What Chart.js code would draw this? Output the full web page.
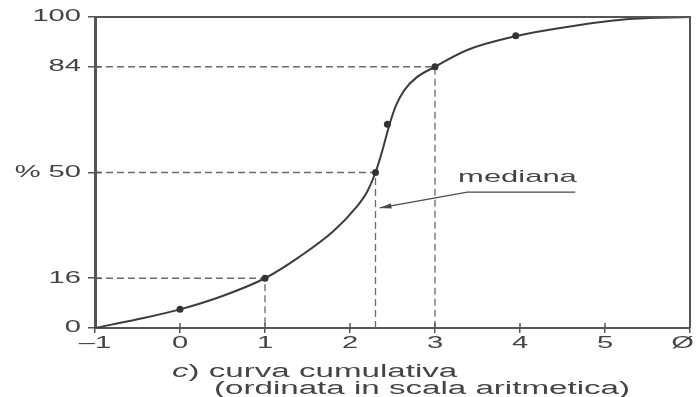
<!DOCTYPE html>
<html>
<head>
<meta charset="utf-8">
<script src="https://cdn.jsdelivr.net/npm/chart.js@4.4.1/dist/chart.umd.min.js"></script>
<style>
  html, body { margin: 0; padding: 0; background: #fff; }
  #wrap { position: relative; width: 696px; height: 397px; }
  canvas { position: absolute; left: 0; top: 0; }
  .cap {
    position: absolute; white-space: nowrap; color: #444;
    font-family: "Liberation Sans", Arial, sans-serif; font-size: 18px;
    transform: scaleX(1.84); transform-origin: left center; line-height: 18px;
  }
</style>
</head>
<body>
<div id="wrap">
  <canvas id="chart" width="696" height="397"></canvas>
  <div class="cap" style="left:172px; top:362px;"><i>c</i>)&nbsp;curva cumulativa</div>
  <div class="cap" style="left:214px; top:379px;">(ordinata in scala aritmetica)</div>
</div>
<script>
// measured points (markers) of the cumulative curve
const markX = [0, 1, 2.3, 2.44, 3, 3.95];
const markY = [6, 16, 50, 65.5, 84, 94];

// the drawn curve
const curveX = [-1, -0.5, 0, 0.5, 1, 1.4, 1.8, 2.08, 2.2, 2.3, 2.38, 2.46, 2.54, 2.64, 2.78, 3, 3.38, 3.96, 4.55, 5.33, 6];
const curveY = [0, 2.8, 6, 10.3, 16, 22.8, 31, 39, 43.7, 50, 57, 65, 71.5, 76.5, 80.5, 84, 89.4, 93.9, 96.8, 99.4, 100];

// dashed guides: 16%, 50% (mediana), 84%
const guideX = [1, 2.3, 3];
const guideY = [16, 50, 84];

// "mediana" pointer line
const arrowX = [4.65, 3.38, 2.35];
const arrowY = [43.7, 43.7, 38.6];
const medianaLabel = { x: 3.97, y: 48.3, text: 'mediana' };

const xTicks = [-1, 0, 1, 2, 3, 4, 5, 6];
const xLabels = ['\u20131', '0', '1', '2', '3', '4', '5', '\u00d8'];
const yTicks = [0, 16, 50, 84, 100];
const yLabels = ['0', '16', '% 50', '84', '100'];

const INK = '#3c3c3c';
const TXT = '#444';
const STRETCH = 1.82;   // the printed figure is stretched horizontally

const datasets = [{
  label: 'curva',
  data: curveX.map((x, i) => ({ x: x, y: curveY[i] })),
  borderColor: INK,
  borderWidth: 2,
  cubicInterpolationMode: 'monotone',
  pointRadius: 0,
  order: 1
}, {
  label: 'punti',
  data: markX.map((x, i) => ({ x: x, y: markY[i] })),
  showLine: false,
  pointRadius: 3.5,
  pointBackgroundColor: '#333',
  pointBorderWidth: 0,
  order: 0
}];

guideX.forEach((gx, i) => {
  datasets.push({
    label: 'guide' + guideY[i],
    data: [{ x: -1, y: guideY[i] }, { x: gx, y: guideY[i] }, { x: gx, y: 0 }],
    borderColor: '#6a6a6a',
    borderWidth: 1.3,
    borderDash: [7, 4],
    pointRadius: 0,
    order: 2
  });
});

datasets.push({
  label: 'arrow',
  data: arrowX.map((x, i) => ({ x: x, y: arrowY[i] })),
  borderColor: '#4a4a4a',
  borderWidth: 1.3,
  pointRadius: 0,
  order: 2
});

function stretchedText(ctx, text, x, y, align, size) {
  ctx.save();
  ctx.translate(x, y);
  ctx.scale(STRETCH, 1);
  ctx.font = size + 'px "Liberation Sans", Arial, sans-serif';
  ctx.fillStyle = TXT;
  ctx.textAlign = align;
  ctx.textBaseline = 'middle';
  ctx.fillText(text, 0, 0);
  ctx.restore();
}

// frame on top/right, inner tick halves, tick labels, arrow head + label
const extras = {
  id: 'extras',
  afterDraw(chart) {
    const ctx = chart.ctx;
    const a = chart.chartArea;
    const xs = chart.scales.x, ys = chart.scales.y;
    ctx.save();
    ctx.strokeStyle = '#555';
    ctx.lineWidth = 2;
    ctx.beginPath();
    ctx.moveTo(a.left, a.top);
    ctx.lineTo(a.right, a.top);
    ctx.lineTo(a.right, a.bottom);
    ctx.stroke();

    ctx.lineWidth = 1.5;
    ctx.beginPath();
    xTicks.slice(1, -1).forEach(v => {
      const px = xs.getPixelForValue(v);
      ctx.moveTo(px, a.bottom);
      ctx.lineTo(px, a.bottom - 5);
    });
    yTicks.slice(1, -1).forEach(v => {
      const py = ys.getPixelForValue(v);
      ctx.moveTo(a.left, py);
      ctx.lineTo(a.left + 6, py);
    });
    ctx.stroke();

    xTicks.forEach((v, i) => {
      const last = i === xTicks.length - 1;
      stretchedText(ctx, xLabels[i], last ? chart.width - 2 : xs.getPixelForValue(v),
        a.bottom + 16, last ? 'right' : 'center', 16);
    });
    yTicks.forEach((v, i) => {
      stretchedText(ctx, yLabels[i], a.left - 14, ys.getPixelForValue(v), 'right', 16);
    });

    // arrow head at the last pointer point
    const n = arrowX.length;
    const tx = xs.getPixelForValue(arrowX[n - 1]), ty = ys.getPixelForValue(arrowY[n - 1]);
    const fx = xs.getPixelForValue(arrowX[n - 2]), fy = ys.getPixelForValue(arrowY[n - 2]);
    const ang = Math.atan2(ty - fy, tx - fx);
    ctx.fillStyle = '#4a4a4a';
    ctx.beginPath();
    ctx.moveTo(tx, ty);
    ctx.lineTo(tx - 12 * Math.cos(ang - 0.22), ty - 12 * Math.sin(ang - 0.22));
    ctx.lineTo(tx - 12 * Math.cos(ang + 0.22), ty - 12 * Math.sin(ang + 0.22));
    ctx.closePath();
    ctx.fill();
    ctx.restore();

    stretchedText(ctx, medianaLabel.text, xs.getPixelForValue(medianaLabel.x),
      ys.getPixelForValue(medianaLabel.y), 'center', 17);
  }
};

new Chart(document.getElementById('chart'), {
  type: 'line',
  data: { datasets: datasets },
  plugins: [extras],
  options: {
    responsive: false,
    animation: false,
    events: [],
    layout: { padding: { left: 0, top: 17, right: 6, bottom: 0 } },
    plugins: { legend: { display: false }, tooltip: { enabled: false } },
    scales: {
      x: {
        type: 'linear', min: -1, max: 6,
        afterBuildTicks: s => { s.ticks = xTicks.map(v => ({ value: v })); },
        afterFit: s => { s.height = 69; s.paddingLeft = 0; s.paddingRight = 0; },
        ticks: { display: false },
        grid: { drawOnChartArea: false, drawTicks: true, tickLength: 5, color: '#555', lineWidth: 1.5 },
        border: { display: true, color: '#555', width: 2 }
      },
      y: {
        type: 'linear', min: 0, max: 100,
        afterBuildTicks: s => { s.ticks = yTicks.map(v => ({ value: v })); },
        afterFit: s => { s.width = 95; s.paddingTop = 0; s.paddingBottom = 0; },
        ticks: { display: false },
        grid: { drawOnChartArea: false, drawTicks: true, tickLength: 7, color: '#555', lineWidth: 1.5 },
        border: { display: true, color: '#555', width: 3 }
      }
    }
  }
});
</script>
</body>
</html>
